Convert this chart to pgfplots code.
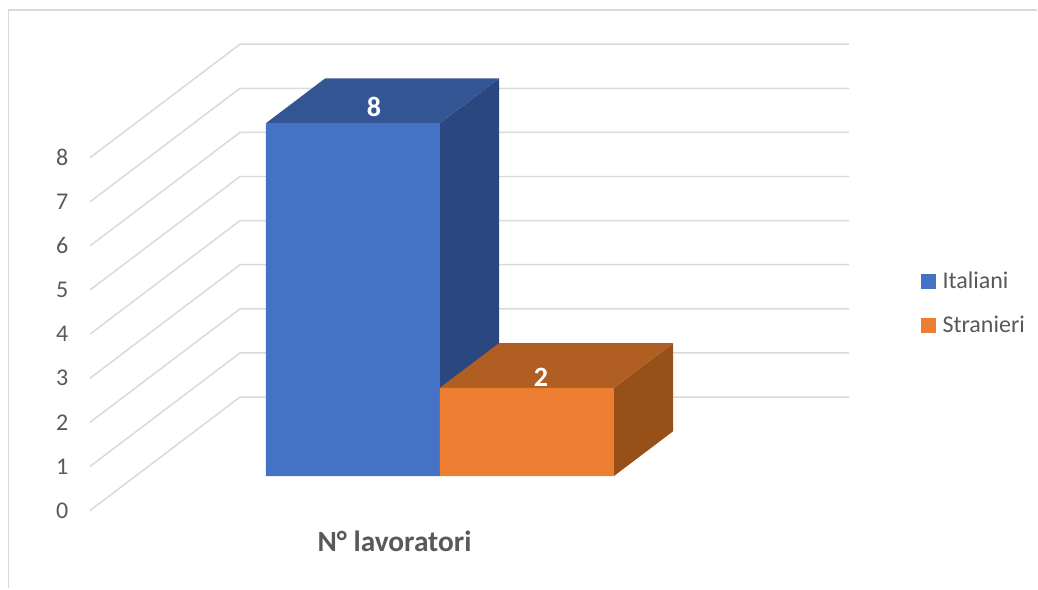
\documentclass[border=0pt]{standalone}
\usepackage{fontspec}
\setmainfont{Carlito}
\usepackage{pgfplots}
\pgfplotsset{compat=1.18}

\definecolor{gridc}{HTML}{D9D9D9}
\definecolor{textc}{HTML}{595959}
\definecolor{blueF}{HTML}{4472C4}
\definecolor{blueT}{HTML}{335593}
\definecolor{blueS}{HTML}{2B477F}
\definecolor{orF}{HTML}{ED7D31}
\definecolor{orT}{HTML}{B15E22}
\definecolor{orS}{HTML}{975118}

\begin{document}
\begin{tikzpicture}
% oblique projection: x = category width, y = depth, z = value
\begin{axis}[
    x={(130.5pt,0pt)}, y={(112.5pt,85.125pt)}, z={(0pt,33.075pt)},
    xmin=-0.5172, xmax=4.586, ymin=0, ymax=1, zmin=-1.78, zmax=9.002,
    hide axis, clip=false,
    every axis plot/.append style={forget plot},
    legend style={draw=none, fill=none, at={(axis cs:4.776,0,5.47)}, anchor=north west,
        font=\fontsize{18}{18}\selectfont, text=textc, row sep=15pt,
        inner sep=0pt, /tikz/every odd column/.append style={column sep=3pt}},
    legend cell align=left,
    legend image code/.code={\fill[#1] (0pt,-5.25pt) rectangle (10.5pt,5.25pt);},
]
% page extent
\addplot3[draw=none] coordinates {(-0.5172,0,-1.78) (5.448,0,11.576)};

% chart frame
\addplot3[gridc, line width=1.1pt] coordinates {(-0.468,0,-1.76) (-0.468,0,11.349) (5.44,0,11.349)};

% gridlines and value labels
\pgfplotsinvokeforeach{0,...,8}{
    \addplot3[gridc, line width=1.1pt] coordinates {(0,0,#1) (0,1,#1) (3.5,1,#1)};
    \node[text=textc, font=\fontsize{18}{18}\selectfont] at (axis cs:-0.16,0,#1) {#1};
}

% Italiani
\addplot3[fill=blueS, draw=none] coordinates {(1.749,0.304,0) (1.749,0.698,0) (1.749,0.698,8) (1.749,0.304,8) (1.749,0.304,0)};
\addplot3[fill=blueT, draw=none] coordinates {(0.749,0.304,8) (1.749,0.304,8) (1.749,0.698,8) (0.749,0.698,8) (0.749,0.304,8)};
\addplot3[fill=blueF, draw=none] coordinates {(0.749,0.304,0) (1.749,0.304,0) (1.749,0.304,8) (0.749,0.304,8) (0.749,0.304,0)};

% Stranieri
\addplot3[fill=orS, draw=none] coordinates {(2.749,0.304,0) (2.749,0.698,0) (2.749,0.698,2) (2.749,0.304,2) (2.749,0.304,0)};
\addplot3[fill=orT, draw=none] coordinates {(1.749,0.304,2) (2.749,0.304,2) (2.749,0.698,2) (1.749,0.698,2) (1.749,0.304,2)};
\addplot3[fill=orF, draw=none] coordinates {(1.749,0.304,0) (2.749,0.304,0) (2.749,0.304,2) (1.749,0.304,2) (1.749,0.304,0)};

% data labels
\node[text=white, font=\fontsize{21}{21}\selectfont\bfseries] at (axis cs:1.249,0.445,8) {8};
\node[text=white, font=\fontsize{21}{21}\selectfont\bfseries] at (axis cs:2.249,0.398,2) {2};

% category label
\node[text=textc, font=\fontsize{22}{22}\selectfont\bfseries] at (axis cs:1.75,0,-0.7) {N° lavoratori};

% legend
\addlegendimage{blueF}\addlegendentry{Italiani}
\addlegendimage{orF}\addlegendentry{Stranieri}
\end{axis}
\end{tikzpicture}
\end{document}
